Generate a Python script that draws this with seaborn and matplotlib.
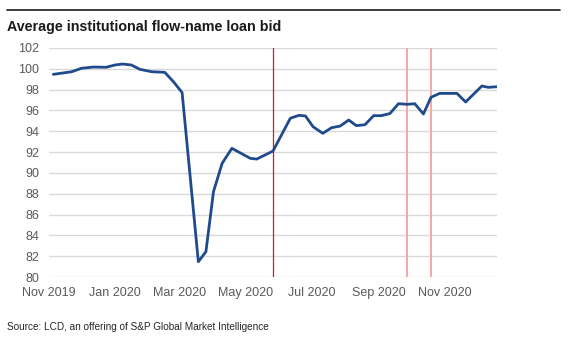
import matplotlib
matplotlib.use("Agg")
import matplotlib.pyplot as plt
import seaborn as sns
import pandas as pd

dates = ["2019-11-05", "2019-11-22", "2019-12-01", "2019-12-12", "2019-12-24",
         "2020-01-01", "2020-01-08", "2020-01-16", "2020-01-24", "2020-02-04",
         "2020-02-16", "2020-02-24", "2020-03-03", "2020-03-18", "2020-03-25",
         "2020-04-01", "2020-04-09", "2020-04-18", "2020-05-05", "2020-05-11",
         "2020-05-26", "2020-06-11", "2020-06-19", "2020-06-25", "2020-07-02",
         "2020-07-11", "2020-07-19", "2020-07-27", "2020-08-04", "2020-08-11",
         "2020-08-19", "2020-08-27", "2020-09-03", "2020-09-11", "2020-09-19",
         "2020-09-27", "2020-10-04", "2020-10-12", "2020-10-19", "2020-10-27",
         "2020-11-12", "2020-11-20", "2020-12-05", "2020-12-11", "2020-12-19"]
bid = [99.47, 99.72, 100.05, 100.17, 100.15,
       100.37, 100.46, 100.37, 99.95, 99.72,
       99.66, 98.76, 97.72, 81.47, 82.43,
       88.2, 90.92, 92.36, 91.4, 91.33,
       92.1, 95.25, 95.53, 95.47, 94.44,
       93.8, 94.34, 94.5, 95.08, 94.54,
       94.63, 95.5, 95.5, 95.7, 96.65,
       96.59, 96.65, 95.66, 97.26, 97.64,
       97.64, 96.81, 98.35, 98.22, 98.28]
tick_dates = ["2019-11-01", "2020-01-01", "2020-03-01", "2020-05-01",
              "2020-07-01", "2020-09-01", "2020-11-01"]
tick_labels = ["Nov 2019", "Jan 2020", "Mar 2020", "May 2020",
               "Jul 2020", "Sep 2020", "Nov 2020"]
dark_marker = ["2020-05-26"]
light_markers = ["2020-09-27", "2020-10-19"]
title = "Average institutional flow-name loan bid"
source = "Source: LCD, an offering of S&P Global Market Intelligence"

sns.set_style("white")
plt.rcParams["font.family"] = ["Liberation Sans", "DejaVu Sans"]

df = pd.DataFrame({"date": pd.to_datetime(dates), "bid": bid})

fig = plt.figure(figsize=(5.76, 3.41), dpi=100)
ax = fig.add_axes([49 / 576, 1 - 277 / 341, (497 - 49) / 576, (277 - 48) / 341])

ax.set_ylim(80, 102)
ax.set_yticks(range(80, 103, 2))
ax.grid(axis="y", color="#d9d9d9", linewidth=1)
ax.grid(axis="x", visible=False)
ax.set_axisbelow(True)

for d in dark_marker:
    ax.axvline(pd.Timestamp(d), color="#d01c24", linewidth=0.9, zorder=2)
for d in light_markers:
    ax.axvline(pd.Timestamp(d), color="#f4a6a8", linewidth=1.4, zorder=2)

sns.lineplot(data=df, x="date", y="bid", ax=ax, color="#1f4a8c", linewidth=2.0, zorder=3)

ax.set_xlim(pd.Timestamp("2019-11-01"), pd.Timestamp(dates[-1]))
ax.set_xticks(pd.to_datetime(tick_dates))
ax.set_xticklabels(tick_labels)
ax.tick_params(axis="both", length=0, labelsize=9, labelcolor="#595959")
ax.tick_params(axis="x", pad=7)
ax.tick_params(axis="y", pad=7)
ax.set_xlabel("")
ax.set_ylabel("")
for s in ax.spines.values():
    s.set_visible(False)

fig.add_artist(plt.Line2D([7 / 576, 560 / 576], [1 - 10 / 341, 1 - 10 / 341],
                          color="#1a1a1a", linewidth=1.2))
fig.text(7 / 576, 1 - 27 / 341, title, fontsize=10.3, fontweight="bold",
         color="#1a1a1a", va="center", ha="left")
fig.text(7 / 576, 1 - 327 / 341, source, fontsize=7.2, color="#262626",
         va="center", ha="left")

fig.savefig("out.png", dpi=100)
